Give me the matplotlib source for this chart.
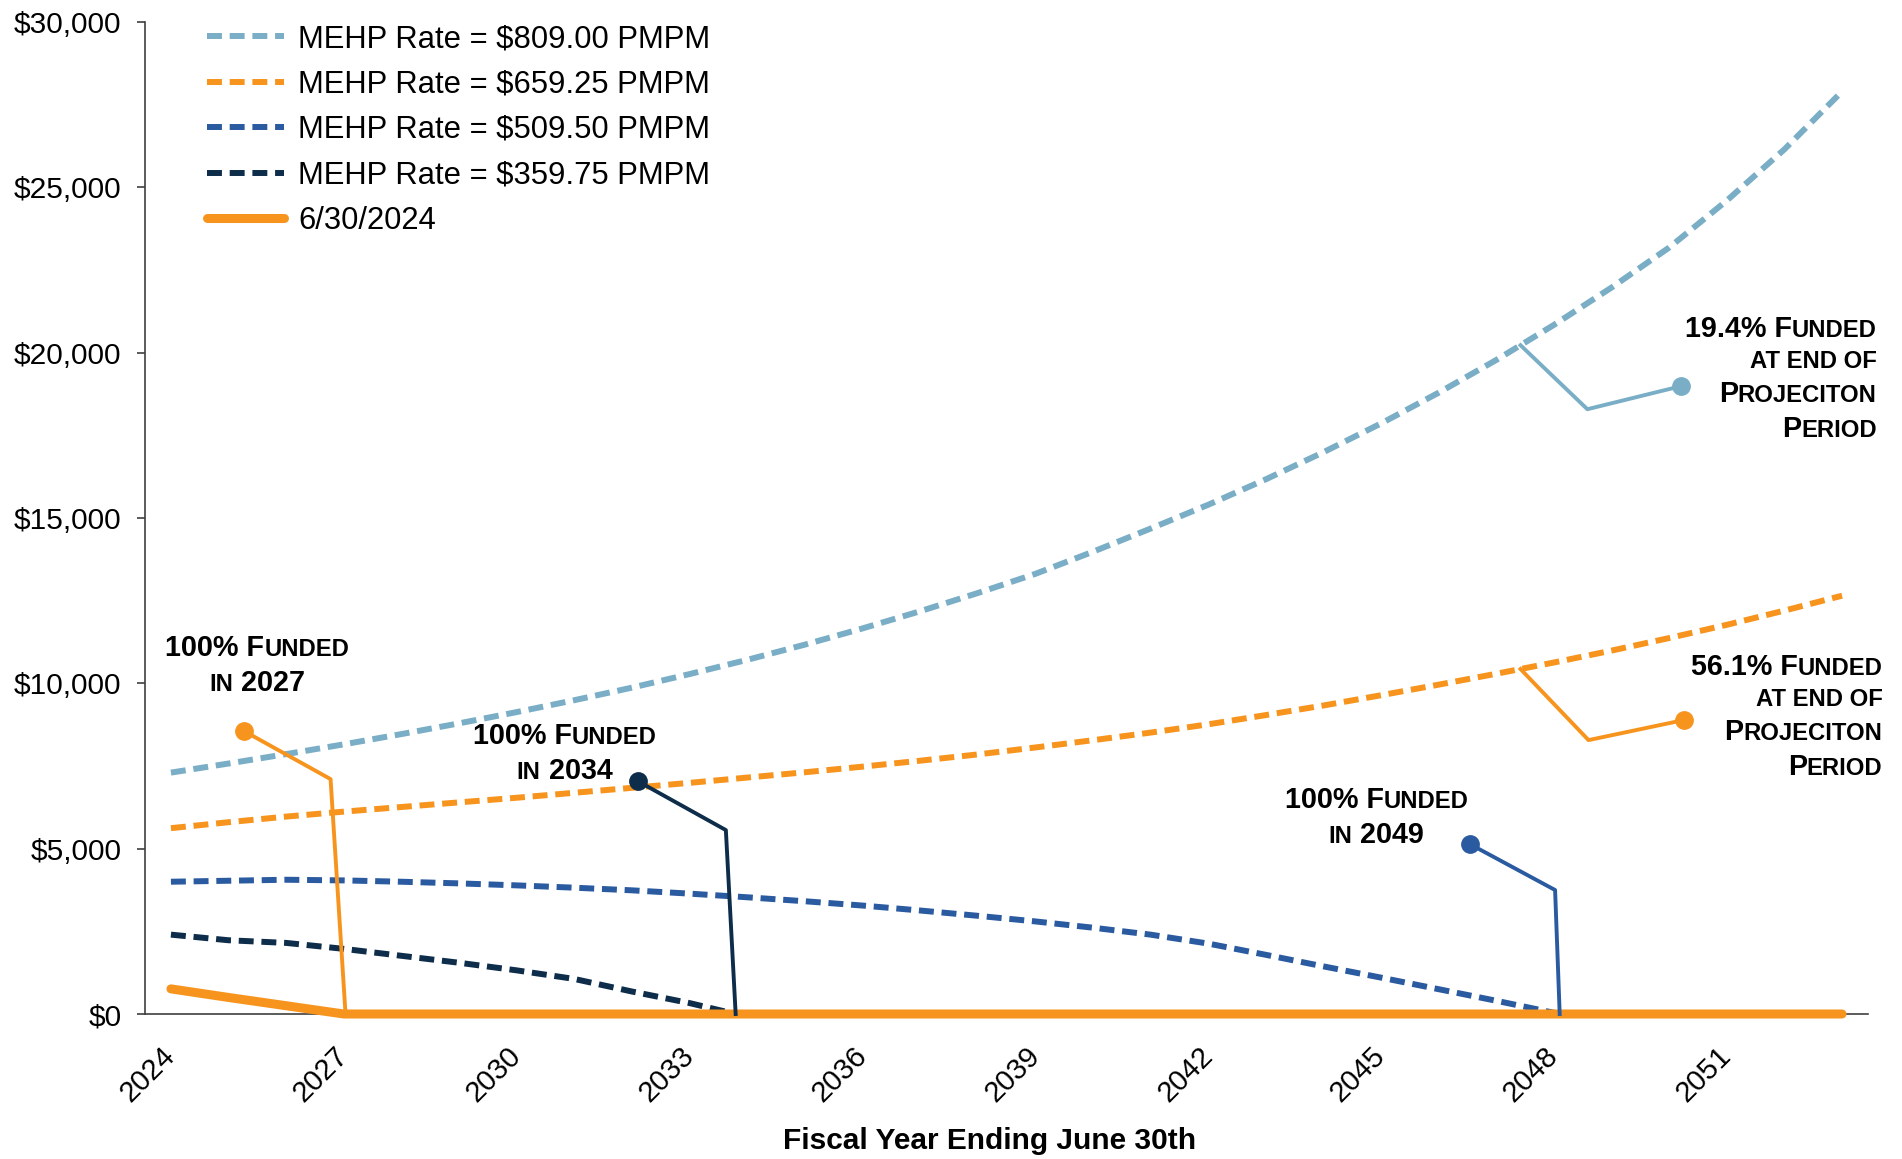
import matplotlib.pyplot as plt
import numpy as np
from matplotlib.offsetbox import TextArea, HPacker, VPacker, AnnotationBbox
from matplotlib.ticker import FuncFormatter

plt.rcParams['font.family'] = ['Liberation Sans', 'DejaVu Sans']

# fiscal years ending June 30th
years = list(range(2024, 2054))

# MEHP rate = $809.00 PMPM
rate_809 = [7300, 7575, 7860, 8155, 8465, 8790, 9130, 9490, 9870, 10280,
            10710, 11170, 11660, 12180, 12730, 13310, 13980, 14680, 15400, 16170,
            16990, 17860, 18790, 19780, 20840, 21970, 23180, 24600, 26150, 27900]

# MEHP rate = $659.25 PMPM
rate_659 = [5620, 5800, 5970, 6120, 6260, 6400, 6540, 6690, 6840, 6990,
            7150, 7310, 7480, 7660, 7850, 8060, 8280, 8510, 8760, 9040,
            9330, 9640, 9960, 10290, 10630, 10990, 11370, 11770, 12200, 12650]

# MEHP rate = $509.50 PMPM (runs out mid 2048)
years_509 = list(range(2024, 2048)) + [2048.1]
rate_509 = [4000, 4030, 4060, 4040, 4000, 3950, 3890, 3820, 3740, 3640,
            3530, 3410, 3280, 3130, 2970, 2800, 2610, 2400, 2130, 1790,
            1440, 1100, 750, 400, 0]

# MEHP rate = $359.75 PMPM (runs out late 2033)
years_359 = list(range(2024, 2034)) + [2033.8]
rate_359 = [2400, 2230, 2150, 1970, 1760, 1550, 1320, 1060, 680, 330, 0]

# 6/30/2024 valuation
current = [760, 500, 250] + [0] * 27

labels = ['MEHP Rate = $809.00 PMPM', 'MEHP Rate = $659.25 PMPM',
          'MEHP Rate = $509.50 PMPM', 'MEHP Rate = $359.75 PMPM', '6/30/2024']

c_light = '#7AAEC6'
c_orange = '#F7941E'
c_blue = '#2A5AA0'
c_navy = '#0D2D4B'

fig = plt.figure(figsize=(19.02, 11.59), dpi=100)
ax = fig.add_axes([145 / 1902, 1 - 1014 / 1159, (1868 - 145) / 1902, (1014 - 22) / 1159])

dash = dict(lw=4.3, dashes=(2.5, 1.3), clip_on=False)
ax.plot(years, rate_809, color=c_light, label=labels[0], **dash)
ax.plot(years, rate_659, color=c_orange, label=labels[1], **dash)
ax.plot(years_509, rate_509, color=c_blue, label=labels[2], **dash)
ax.plot(years_359, rate_359, color=c_navy, label=labels[3], **dash)
ax.plot(years, current, color=c_orange, lw=6.5, solid_capstyle='round',
        label=labels[4], clip_on=False, zorder=3)

ax.set_xlim(2023.55, 2053.45)
ax.set_ylim(0, 30000)
ax.set_yticks(np.arange(0, 30001, 5000))
ax.yaxis.set_major_formatter(FuncFormatter(lambda v, p: '${:,.0f}'.format(v)))
ax.set_xticks(range(2024, 2052, 3))

for s in ['top', 'right']:
    ax.spines[s].set_visible(False)
for s in ['left', 'bottom']:
    ax.spines[s].set_color('#404040')
    ax.spines[s].set_linewidth(1.2)

ax.tick_params(axis='y', labelsize=21.5, length=6, width=1.2, color='#404040', pad=11)
ax.tick_params(axis='x', labelsize=21, length=0, pad=27)
for t in ax.get_xticklabels():
    t.set_rotation(45)
    t.set_ha('right')
    t.set_va('center')
    t.set_rotation_mode('anchor')

fig.text(990 / 1902, 1 - 1141 / 1159, 'Fiscal Year Ending June 30th',
         ha='center', va='center', fontsize=21.5, fontweight='bold')

leg = ax.legend(loc='upper left', bbox_to_anchor=(207 / 1902, 1 - 24 / 1159),
                bbox_transform=fig.transFigure, frameon=False, fontsize=22.3,
                handlelength=2.5, handletextpad=0.45, labelspacing=0.5,
                borderpad=0, borderaxespad=0)


# small caps text blocks
def caps_line(line, size):
    runs = []
    pending = ''
    for ch in line:
        if ch == ' ':
            pending += ch
            continue
        small = ch.islower()
        if runs and runs[-1][1] == small:
            runs[-1][0] += pending + ch
        else:
            runs.append([pending + ch, small])
        pending = ''
    boxes = [TextArea(t.upper(), textprops=dict(fontsize=size * 0.83 if sm else size,
                                                fontweight='bold', color='black'))
             for t, sm in runs]
    return HPacker(children=boxes, align='baseline', pad=0, sep=0)


def caps_block(text, xy, align, anchor):
    lines = [caps_line(l, 20.7) for l in text.split('\n')]
    box = VPacker(children=lines, align=align, pad=0, sep=5)
    ab = AnnotationBbox(box, xy, xycoords='data', box_alignment=anchor,
                        frameon=False, pad=0, annotation_clip=False)
    ax.add_artist(ab)


def leader(xs, ys, color, dot_at):
    ax.plot(xs, ys, color=color, lw=2.8, clip_on=False, zorder=4)
    ax.plot(xs[dot_at], ys[dot_at], 'o', color=color, ms=12.5, clip_on=False, zorder=4)


# funded callouts
leader([2025.27, 2026.77, 2027.03], [8555, 7104, 0], c_orange, 0)
leader([2032.1, 2033.63, years_359[-1]], [7044, 5562, 0], c_navy, 0)
leader([2046.54, 2048.02, years_509[-1]], [5139, 3749, 0], c_blue, 0)
x0 = 2047.42
leader([x0, 2048.58, 2050.2], [np.interp(x0, years, rate_809), 18290, 18985], c_light, 2)
leader([x0, 2048.6, 2050.25], [np.interp(x0, years, rate_659), 8283, 8888], c_orange, 2)

caps_block('100% Funded\nin 2027', (2025.5, 10535), 'center', (0.5, 0.5))
caps_block('100% Funded\nin 2034', (2030.83, 7875), 'center', (0.5, 0.5))
caps_block('100% Funded\nin 2049', (2044.92, 5940), 'center', (0.5, 0.5))
caps_block('19.4% Funded\nat end of\nProjeciton\nPeriod', (2053.6, 19196), 'right', (1, 0.5))
caps_block('56.1% Funded\nat end of\nProjeciton\nPeriod', (2053.7, 8978), 'right', (1, 0.5))

fig.savefig('out.png', dpi=100)
